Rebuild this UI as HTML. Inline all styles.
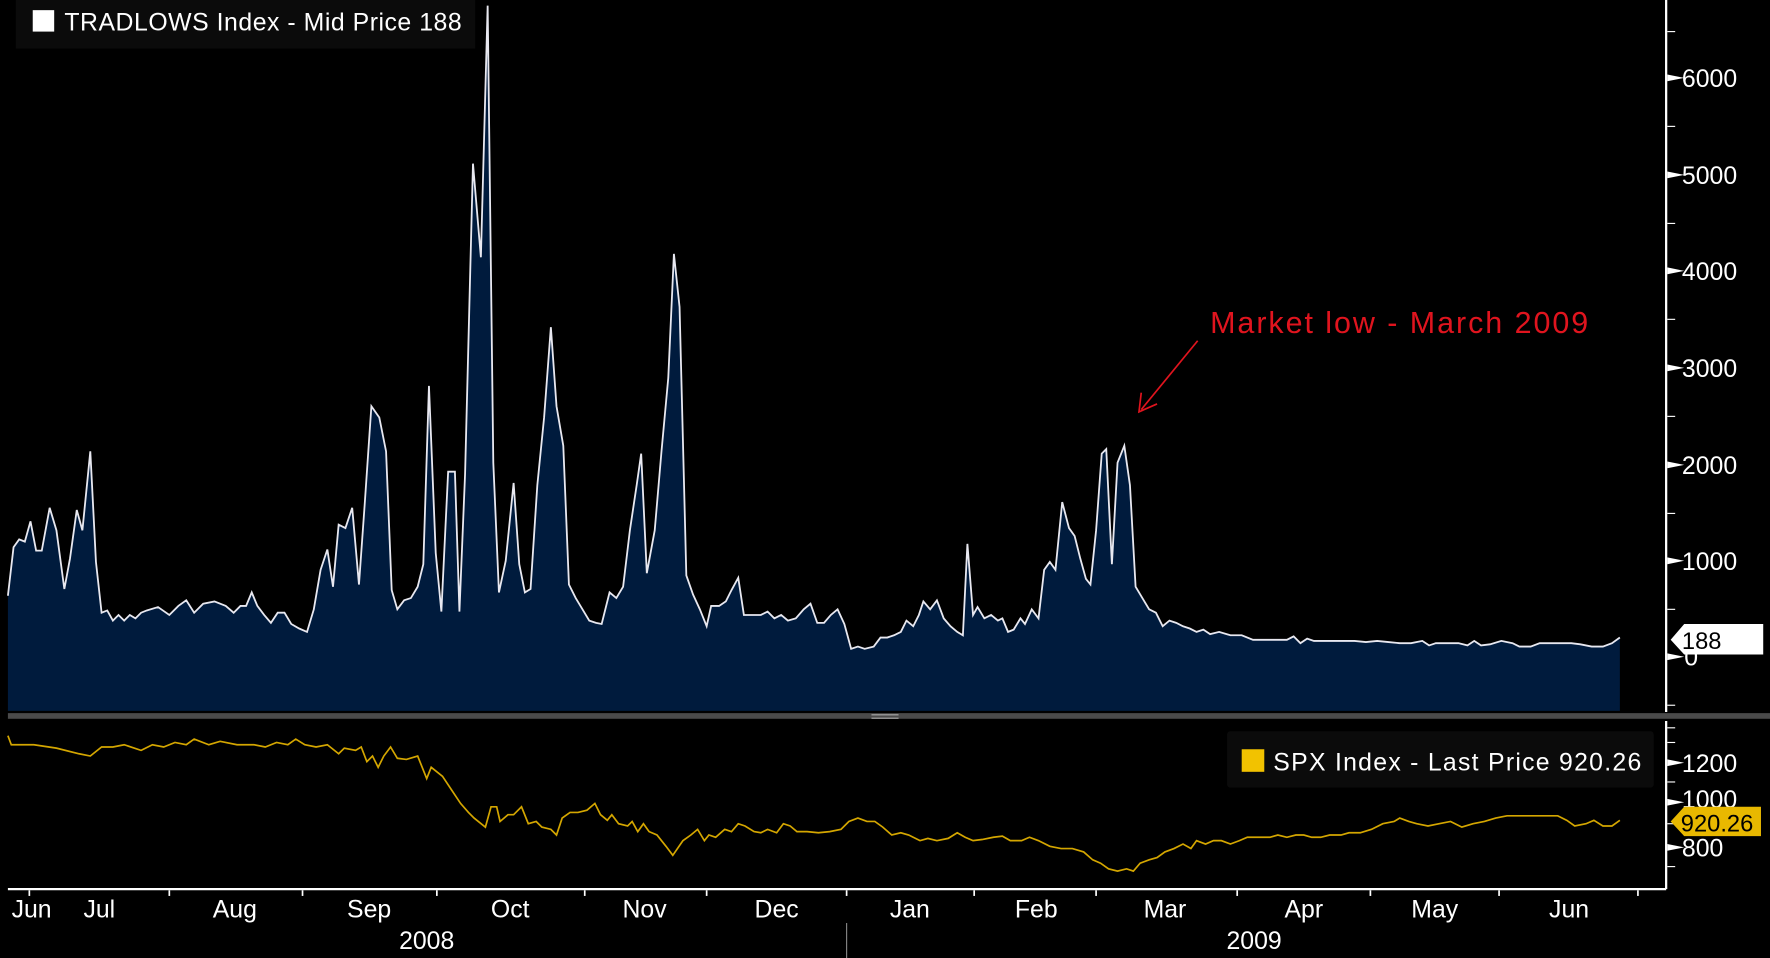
<!DOCTYPE html>
<html><head><meta charset="utf-8"><style>html,body{margin:0;padding:0;background:#000;width:1770px;height:958px;overflow:hidden}</style></head>
<body>
<svg width="1770" height="958" viewBox="0 0 1568 849" preserveAspectRatio="none" xmlns="http://www.w3.org/2000/svg" font-family="Liberation Sans, sans-serif">
<rect width="1568" height="849" fill="#000"/>
<polygon fill="#001b3d" points="7,630 7,528 12,485 17,478 22,480 27,462 32,488 37,488 44,450 50,470 57,522 62,495 68,452 73,470 80,400 85,498 90,543 95,541 100,550 105,545 110,550 115,545 120,548 125,543 130,541 140,538 150,545 158,537 165,532 172,543 180,535 190,533 200,537 207,543 213,537 218,537 223,525 228,537 234,545 240,552 246,543 252,543 258,553 265,557 272,560 278,540 284,505 290,487 295,520 300,465 306,468 312,450 318,518 323,448 329,360 336,370 342,400 347,523 352,540 358,532 364,530 370,520 375,500 380,342 386,490 391,542 397,418 403,418 407,542 412,420 419,145 426,228 432,5 437,410 442,525 448,497 455,428 460,500 465,525 470,522 476,430 482,370 488,290 493,360 499,395 504,518 510,530 516,540 522,550 528,552 533,553 540,525 546,530 552,520 558,470 564,430 568,402 573,508 580,470 586,400 592,335 597,225 602,272 608,510 614,527 620,540 626,555 630,537 637,537 643,533 648,523 654,512 659,545 666,545 674,545 680,542 686,548 692,545 698,550 705,548 712,540 718,535 724,552 730,552 736,545 742,540 748,553 754,575 760,573 766,575 774,573 780,565 786,565 792,563 798,560 803,550 809,555 814,545 818,533 824,540 830,532 836,548 842,555 848,560 853,563 857,482 862,545 866,538 872,548 878,545 884,550 888,548 893,560 898,558 904,548 908,553 914,540 920,548 925,505 930,498 935,505 941,445 947,468 952,475 957,495 962,513 966,518 971,470 976,402 980,398 985,500 990,410 996,395 1001,430 1006,520 1012,530 1018,540 1024,543 1030,555 1036,550 1042,552 1048,555 1054,557 1060,560 1066,558 1072,562 1080,560 1090,563 1100,563 1110,567 1120,567 1130,567 1140,567 1146,564 1152,570 1158,566 1164,568 1172,568 1180,568 1190,568 1200,568 1210,569 1220,568 1230,569 1240,570 1250,570 1260,568 1266,572 1272,570 1282,570 1292,570 1300,572 1306,568 1312,572 1320,571 1330,568 1340,570 1346,573 1356,573 1364,570 1374,570 1384,570 1392,570 1400,571 1410,573 1420,573 1428,570 1435,565 1435,630"/>
<polyline fill="none" stroke="#e8e8f0" stroke-width="1.6" points="7,528 12,485 17,478 22,480 27,462 32,488 37,488 44,450 50,470 57,522 62,495 68,452 73,470 80,400 85,498 90,543 95,541 100,550 105,545 110,550 115,545 120,548 125,543 130,541 140,538 150,545 158,537 165,532 172,543 180,535 190,533 200,537 207,543 213,537 218,537 223,525 228,537 234,545 240,552 246,543 252,543 258,553 265,557 272,560 278,540 284,505 290,487 295,520 300,465 306,468 312,450 318,518 323,448 329,360 336,370 342,400 347,523 352,540 358,532 364,530 370,520 375,500 380,342 386,490 391,542 397,418 403,418 407,542 412,420 419,145 426,228 432,5 437,410 442,525 448,497 455,428 460,500 465,525 470,522 476,430 482,370 488,290 493,360 499,395 504,518 510,530 516,540 522,550 528,552 533,553 540,525 546,530 552,520 558,470 564,430 568,402 573,508 580,470 586,400 592,335 597,225 602,272 608,510 614,527 620,540 626,555 630,537 637,537 643,533 648,523 654,512 659,545 666,545 674,545 680,542 686,548 692,545 698,550 705,548 712,540 718,535 724,552 730,552 736,545 742,540 748,553 754,575 760,573 766,575 774,573 780,565 786,565 792,563 798,560 803,550 809,555 814,545 818,533 824,540 830,532 836,548 842,555 848,560 853,563 857,482 862,545 866,538 872,548 878,545 884,550 888,548 893,560 898,558 904,548 908,553 914,540 920,548 925,505 930,498 935,505 941,445 947,468 952,475 957,495 962,513 966,518 971,470 976,402 980,398 985,500 990,410 996,395 1001,430 1006,520 1012,530 1018,540 1024,543 1030,555 1036,550 1042,552 1048,555 1054,557 1060,560 1066,558 1072,562 1080,560 1090,563 1100,563 1110,567 1120,567 1130,567 1140,567 1146,564 1152,570 1158,566 1164,568 1172,568 1180,568 1190,568 1200,568 1210,569 1220,568 1230,569 1240,570 1250,570 1260,568 1266,572 1272,570 1282,570 1292,570 1300,572 1306,568 1312,572 1320,571 1330,568 1340,570 1346,573 1356,573 1364,570 1374,570 1384,570 1392,570 1400,571 1410,573 1420,573 1428,570 1435,565"/>
<!-- separator -->
<rect x="7" y="632" width="1561" height="5" fill="#4a4a4a"/>
<rect x="772" y="633" width="24" height="1" fill="#aaa"/><rect x="772" y="636" width="24" height="1" fill="#aaa"/>
<!-- SPX -->
<polyline fill="none" stroke="#d4a600" stroke-width="1.5" points="7,652 10,660 30,660 50,663 70,668 80,670 90,662 100,662 110,660 125,665 135,660 145,662 155,658 165,660 172,655 185,660 195,657 210,660 225,660 235,662 245,658 255,660 262,655 270,660 280,662 290,660 300,668 305,663 315,665 320,662 325,675 330,670 335,680 340,670 346,662 352,672 360,673 370,670 378,690 382,680 392,688 400,700 408,712 415,720 420,725 430,733 435,715 440,715 443,728 450,722 455,722 462,715 468,730 475,728 480,733 488,735 493,740 498,725 505,720 512,720 520,718 527,712 532,722 538,727 542,722 548,730 556,732 560,728 565,737 570,730 575,737 582,740 590,750 596,758 605,745 612,740 618,735 624,745 628,740 634,742 642,735 648,737 654,730 660,732 668,737 674,738 680,735 688,738 694,730 700,732 706,737 715,737 725,738 735,737 745,735 752,728 760,725 768,728 775,728 782,733 790,740 798,738 805,740 815,745 822,743 830,745 840,743 848,738 855,742 862,745 870,744 880,742 888,741 895,745 905,745 912,742 920,745 930,750 940,752 950,752 960,755 968,762 975,765 982,770 990,772 998,770 1004,772 1010,765 1018,762 1025,760 1032,755 1040,752 1048,748 1055,752 1060,745 1068,748 1075,745 1082,745 1090,748 1098,745 1105,742 1115,742 1125,742 1132,740 1140,742 1148,740 1155,740 1162,742 1170,742 1178,740 1188,740 1195,738 1205,738 1215,735 1225,730 1235,728 1240,725 1248,728 1255,730 1265,732 1275,730 1285,728 1295,733 1305,730 1315,728 1325,725 1335,723 1350,723 1365,723 1380,723 1388,727 1395,732 1405,730 1412,727 1420,732 1428,732 1435,727"/>
<!-- right axis -->
<line x1="1476" y1="0" x2="1476" y2="631" stroke="#fff" stroke-width="2"/>
<line x1="1476" y1="639" x2="1476" y2="788" stroke="#fff" stroke-width="2"/>
<g fill="#fff">
<polygon points="1477,66 1492,69 1477,72"/><polygon points="1477,152 1492,155 1477,158"/><polygon points="1477,237 1492,240 1477,243"/><polygon points="1477,323 1492,326 1477,329"/><polygon points="1477,409 1492,412 1477,415"/><polygon points="1477,494 1492,497 1477,500"/><polygon points="1477,579 1492,582 1477,585"/>
<polygon points="1477,673 1492,676 1477,679"/><polygon points="1477,708 1492,711 1477,714"/><polygon points="1477,748 1492,751 1477,754"/>
</g>
<g stroke="#fff" stroke-width="1">
<line x1="1477" y1="28" x2="1484" y2="28"/><line x1="1477" y1="112" x2="1484" y2="112"/><line x1="1477" y1="198" x2="1484" y2="198"/><line x1="1477" y1="283" x2="1484" y2="283"/><line x1="1477" y1="369" x2="1484" y2="369"/><line x1="1477" y1="455" x2="1484" y2="455"/><line x1="1477" y1="540" x2="1484" y2="540"/><line x1="1477" y1="625" x2="1484" y2="625"/>
<line x1="1477" y1="645" x2="1484" y2="645"/><line x1="1477" y1="658" x2="1484" y2="658"/><line x1="1477" y1="693" x2="1484" y2="693"/><line x1="1477" y1="730" x2="1484" y2="730"/><line x1="1477" y1="768" x2="1484" y2="768"/>
</g>
<g fill="#fff" font-size="22">
<text x="1490" y="77">6000</text><text x="1490" y="163">5000</text><text x="1490" y="248">4000</text><text x="1490" y="334">3000</text><text x="1490" y="420">2000</text><text x="1490" y="505">1000</text><text x="1492" y="590">0</text>
<text x="1490" y="684">1200</text><text x="1490" y="716">1000</text><text x="1490" y="759">800</text>
</g>
<polygon points="1480,567 1492,553 1562,553 1562,580 1492,580" fill="#fff"/>
<text x="1490" y="575" font-size="21" fill="#000">188</text>
<polygon points="1480,728 1492,715 1560,715 1560,741 1492,741" fill="#e8b800"/>
<text x="1489" y="737" font-size="21" fill="#000">920.26</text>
<!-- x axis -->
<line x1="7" y1="788" x2="1476" y2="788" stroke="#fff" stroke-width="2"/>
<g stroke="#fff" stroke-width="1.5">
<line x1="26" y1="789" x2="26" y2="794"/><line x1="150" y1="789" x2="150" y2="794"/><line x1="268" y1="789" x2="268" y2="794"/><line x1="387" y1="789" x2="387" y2="794"/><line x1="518" y1="789" x2="518" y2="794"/><line x1="626" y1="789" x2="626" y2="794"/><line x1="750" y1="789" x2="750" y2="794"/><line x1="863" y1="789" x2="863" y2="794"/><line x1="971" y1="789" x2="971" y2="794"/><line x1="1096" y1="789" x2="1096" y2="794"/><line x1="1214" y1="789" x2="1214" y2="794"/><line x1="1328" y1="789" x2="1328" y2="794"/><line x1="1451" y1="789" x2="1451" y2="794"/>
</g>
<line x1="750" y1="818" x2="750" y2="849" stroke="#888" stroke-width="1"/>
<g fill="#fff" font-size="22" text-anchor="middle">
<text x="28" y="813">Jun</text><text x="88" y="813">Jul</text><text x="208" y="813">Aug</text><text x="327" y="813">Sep</text><text x="452" y="813">Oct</text><text x="571" y="813">Nov</text><text x="688" y="813">Dec</text><text x="806" y="813">Jan</text><text x="918" y="813">Feb</text><text x="1032" y="813">Mar</text><text x="1155" y="813">Apr</text><text x="1271" y="813">May</text><text x="1390" y="813">Jun</text>
<text x="378" y="841">2008</text><text x="1111" y="841">2009</text>
</g>
<!-- legends -->
<rect x="14" y="0" width="407" height="43" fill="#0b0b0b"/>
<rect x="29" y="9" width="19" height="19" fill="#fff"/>
<text x="57" y="27" font-size="22" fill="#fff" textLength="352">TRADLOWS Index - Mid Price 188</text>
<rect x="1087" y="648" width="378" height="50" fill="#0b0b0b" rx="3"/>
<rect x="1100" y="664" width="20" height="20" fill="#f2c200"/>
<text x="1128" y="683" font-size="22" fill="#fff" textLength="326">SPX Index - Last Price 920.26</text>
<!-- annotation -->
<text x="1072" y="295" font-size="27" fill="#e0141e" textLength="335">Market low - March 2009</text>
<line x1="1061" y1="302" x2="1011" y2="363" stroke="#e0141e" stroke-width="1.5"/>
<polyline points="1011,348 1009,365 1025,358" fill="none" stroke="#e0141e" stroke-width="1.5"/>
</svg>
</body></html>
